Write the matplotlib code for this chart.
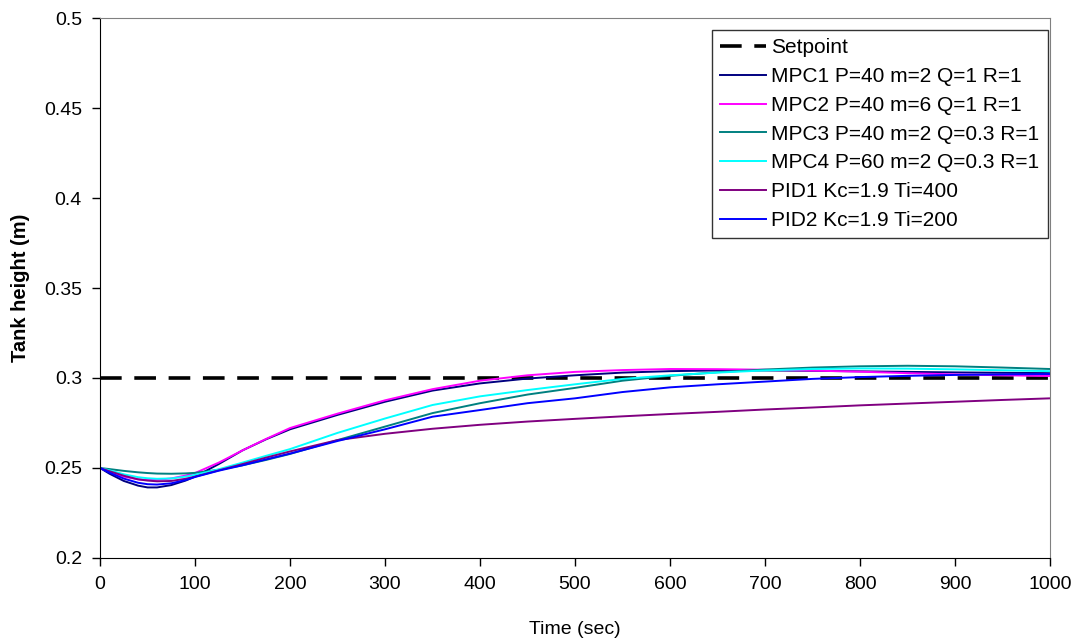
"""Tank height response: MPC vs PID tunings."""

import matplotlib

matplotlib.use("Agg")
import matplotlib.pyplot as plt

plt.rcParams["font.family"] = ["Liberation Sans", "DejaVu Sans"]

TIME = [0, 10, 25, 40, 50, 60, 75, 90, 100, 125, 150, 175, 200, 250, 300, 350, 400, 450,
        500, 550, 600, 650, 700, 750, 800, 850, 900, 950, 1000]
SETPOINT = 0.3

MPC1 = [0.2500, 0.2468, 0.2428, 0.2402, 0.2392, 0.2392, 0.2405, 0.2430, 0.2452, 0.2522,
        0.2598, 0.2660, 0.2715, 0.2795, 0.2868, 0.2930, 0.2970, 0.2997, 0.3015, 0.3030,
        0.3038, 0.3042, 0.3042, 0.3040, 0.3037, 0.3034, 0.3031, 0.3029, 0.3027]
MPC2 = [0.2500, 0.2478, 0.2452, 0.2437, 0.2433, 0.2434, 0.2442, 0.2458, 0.2472, 0.2530,
        0.2598, 0.2662, 0.2722, 0.2802, 0.2876, 0.2938, 0.2985, 0.3015, 0.3034, 0.3044,
        0.3050, 0.3049, 0.3046, 0.3041, 0.3035, 0.3027, 0.3020, 0.3015, 0.3011]
MPC3 = [0.2500, 0.2494, 0.2484, 0.2476, 0.2472, 0.2469, 0.2468, 0.2470, 0.2473, 0.2490,
        0.2515, 0.2545, 0.2578, 0.2655, 0.2730, 0.2805, 0.2860, 0.2908, 0.2945, 0.2985,
        0.3012, 0.3032, 0.3047, 0.3058, 0.3065, 0.3068, 0.3065, 0.3058, 0.3050]
MPC4 = [0.2500, 0.2487, 0.2465, 0.2449, 0.2443, 0.2440, 0.2442, 0.2452, 0.2462, 0.2493,
        0.2530, 0.2568, 0.2605, 0.2695, 0.2775, 0.2850, 0.2898, 0.2933, 0.2965, 0.2995,
        0.3015, 0.3030, 0.3042, 0.3050, 0.3053, 0.3052, 0.3048, 0.3043, 0.3038]
PID1 = [0.2500, 0.2482, 0.2457, 0.2437, 0.2430, 0.2426, 0.2428, 0.2440, 0.2452, 0.2487,
        0.2522, 0.2558, 0.2592, 0.2655, 0.2690, 0.2718, 0.2740, 0.2758, 0.2773, 0.2787,
        0.2800, 0.2812, 0.2825, 0.2836, 0.2848, 0.2858, 0.2868, 0.2878, 0.2887]
PID2 = [0.2500, 0.2474, 0.2441, 0.2418, 0.2410, 0.2408, 0.2415, 0.2433, 0.2450, 0.2485,
        0.2515, 0.2548, 0.2580, 0.2650, 0.2715, 0.2785, 0.2822, 0.2860, 0.2887, 0.2922,
        0.2948, 0.2965, 0.2980, 0.2995, 0.3005, 0.3012, 0.3017, 0.3020, 0.3022]

SERIES = [
    ("MPC1 P=40 m=2 Q=1 R=1", MPC1, "#000080"),
    ("MPC2 P=40 m=6 Q=1 R=1", MPC2, "#FF00FF"),
    ("MPC3 P=40 m=2 Q=0.3 R=1", MPC3, "#008080"),
    ("MPC4 P=60 m=2 Q=0.3 R=1", MPC4, "#00FFFF"),
    ("PID1 Kc=1.9 Ti=400", PID1, "#800080"),
    ("PID2 Kc=1.9 Ti=200", PID2, "#0000FF"),
]

fig = plt.figure(figsize=(10.84, 6.41), dpi=100)
ax = fig.add_axes([0.0923, 0.1295, 0.8763, 0.8424])

ax.axhline(SETPOINT, color="black", linewidth=2.6, linestyle=(0, (6, 3.5)), label="Setpoint")
for label, values, color in SERIES:
    ax.plot(TIME, values, color=color, linewidth=1.4, label=label)

ax.set_xlim(0, 1000)
ax.set_ylim(0.2, 0.5)
ax.set_xticks(range(0, 1001, 100))
ax.set_yticks([0.2, 0.25, 0.3, 0.35, 0.4, 0.45, 0.5])
ax.set_yticklabels(["0.2", "0.25", "0.3", "0.35", "0.4", "0.45", "0.5"])
ax.tick_params(direction="out", length=6, width=1, labelsize=14, pad=7)

for side in ("top", "right"):
    ax.spines[side].set_color("#808080")
for side in ("left", "bottom"):
    ax.spines[side].set_color("black")

ax.set_xlabel("Time (sec)", fontsize=14, labelpad=20)
ax.set_ylabel("Tank height (m)", fontsize=14.5, fontweight="bold", labelpad=10)

leg = ax.legend(loc="upper right", bbox_to_anchor=(0.9975, 0.978), fontsize=15,
                frameon=True, fancybox=False, handlelength=2.2, handletextpad=0.25,
                borderpad=0.4, labelspacing=0.47, borderaxespad=0)
leg.get_frame().set_edgecolor("black")
leg.get_frame().set_linewidth(1)

fig.savefig("out.png", dpi=100)
